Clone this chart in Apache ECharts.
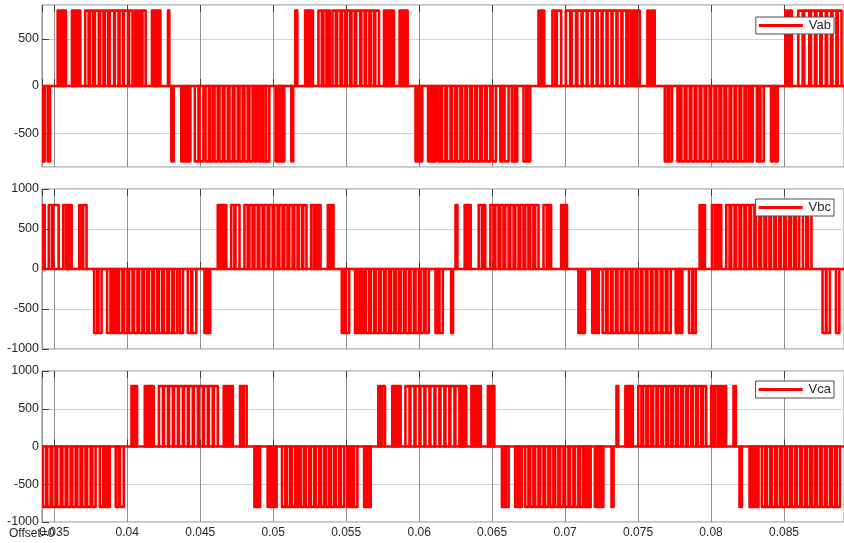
<!DOCTYPE html>
<html>
<head>
<meta charset="utf-8">
<script src="https://cdn.jsdelivr.net/npm/echarts@6/dist/echarts.min.js"></script>
<style>
  html, body { margin: 0; padding: 0; background: #fff; }
  #chart { width: 844px; height: 543px; }
</style>
</head>
<body>
<div id="chart"></div>
<script>
// names of the three scope channels
const seriesNames = ['Vab', 'Vbc', 'Vca'];
// pulse height (V)
const amplitude = 800;
// visible time window (ms)
const tStartMs = 34.157;
const tEndMs = 89.11;
const yTickLabels = [-1000, -500, 0, 500, 1000];

// pulses read from the scope: [on ms, off ms, sign]
const vabPulses = [
  [34.21,34.34,-1],[34.55,34.71,-1],
  [35.23,35.37,1],[35.48,35.59,1],[35.66,35.80,1],[36.21,36.33,1],[36.39,36.50,1],[36.62,36.78,1],[37.12,37.35,1],[37.44,37.66,1],[37.78,38.05,1],[38.14,38.37,1],[38.46,38.69,1],[38.80,39.10,1],[39.15,39.40,1],[39.47,39.71,1],[39.76,40.05,1],[40.12,40.36,1],[40.51,40.67,1],[40.81,40.97,1],[41.04,41.26,1],[41.69,41.83,1],[41.93,42.06,1],[42.13,42.27,1],[42.79,42.88,1],
  [43.02,43.18,-1],[43.70,43.84,-1],[43.93,44.07,-1],[44.15,44.32,-1],[44.63,44.88,-1],[44.95,45.22,-1],[45.36,45.59,-1],[45.66,45.86,-1],[45.98,46.20,-1],[46.32,46.55,-1],[46.66,46.89,-1],[47.00,47.23,-1],[47.34,47.57,-1],[47.69,47.91,-1],[48.03,48.25,-1],[48.37,48.59,-1],[48.71,48.87,-1],[49.00,49.18,-1],[49.28,49.47,-1],[49.51,49.73,-1],[50.16,50.33,-1],[50.42,50.56,-1],[50.62,50.76,-1],[51.24,51.37,-1],
  [51.51,51.65,1],[52.19,52.33,1],[52.40,52.52,1],[52.58,52.72,1],[53.10,53.33,1],[53.44,53.65,1],[53.74,53.88,1],[54.06,54.29,1],[54.38,54.61,1],[54.70,54.92,1],[55.04,55.27,1],[55.36,55.59,1],[55.68,55.96,1],[56.04,56.27,1],[56.36,56.59,1],[56.68,56.90,1],[56.99,57.25,1],[57.59,57.73,1],[57.86,58.04,1],[58.11,58.27,1],[58.66,58.80,1],[58.89,59.03,1],[59.07,59.21,1],
  [59.75,59.93,-1],[60.03,60.21,-1],[60.61,60.78,-1],[60.84,60.98,-1],[61.00,61.14,-1],[61.30,61.48,-1],[61.57,61.80,-1],[61.91,62.15,-1],[62.25,62.48,-1],[62.60,62.83,-1],[62.94,63.17,-1],[63.28,63.51,-1],[63.62,63.85,-1],[63.96,64.19,-1],[64.30,64.53,-1],[64.64,64.88,-1],[65.03,65.26,-1],[65.56,65.74,-1],[65.85,66.13,-1],[66.35,66.54,-1],[66.58,66.72,-1],[67.15,67.34,-1],[67.43,67.61,-1],
  [68.18,68.32,1],[68.41,68.57,1],[69.13,69.32,1],[69.43,69.73,1],[70.05,70.35,1],[70.45,70.75,1],[70.84,71.13,1],[71.20,71.48,1],[71.54,71.82,1],[71.89,72.16,1],[72.23,72.50,1],[72.57,72.84,1],[72.91,73.18,1],[73.25,73.52,1],[73.59,73.86,1],[73.93,74.20,1],[74.32,74.51,1],[74.66,74.82,1],[74.91,75.12,1],[75.64,75.80,1],[75.96,76.14,1],
  [76.83,77.02,-1],[77.13,77.32,-1],[77.70,77.88,-1],[77.97,78.20,-1],[78.31,78.54,-1],[78.65,78.88,-1],[78.99,79.22,-1],[79.33,79.56,-1],[79.67,79.90,-1],[80.01,80.24,-1],[80.36,80.58,-1],[80.70,80.92,-1],[81.04,81.27,-1],[81.38,81.61,-1],[81.72,81.95,-1],[82.06,82.29,-1],[82.40,82.59,-1],[82.70,82.86,-1],[83.14,83.32,-1],[83.39,83.61,-1],[84.11,84.25,-1],[84.39,84.57,-1],
  [85.09,85.25,1],[85.37,85.53,1],[85.98,86.28,1],[86.39,86.73,1],[86.85,87.12,1],[87.22,87.49,1],[87.58,87.86,1],[87.95,88.22,1],[88.32,88.59,1],[88.68,88.94,1]
];

const vbcPulses = [
  [34.16,34.34,1],[34.62,34.84,1],[34.93,35.30,1],[35.61,35.80,1],[35.85,35.98,1],[36.02,36.19,1],[36.71,36.89,1],[36.98,37.21,1],
  [37.73,37.94,-1],[38.03,38.24,-1],[38.62,38.85,-1],[38.96,39.10,-1],[39.15,39.30,-1],[39.44,39.67,-1],[39.78,40.01,-1],[40.12,40.36,-1],[40.46,40.70,-1],[40.81,41.04,-1],[41.15,41.38,-1],[41.49,41.72,-1],[41.83,42.06,-1],[42.17,42.40,-1],[42.51,42.75,-1],[42.86,43.09,-1],[43.20,43.43,-1],[43.59,43.81,-1],[44.15,44.39,-1],[44.45,44.73,-1],[45.29,45.45,-1],[45.52,45.68,-1],
  [46.20,46.37,1],[46.43,46.59,1],[46.64,46.78,1],[47.12,47.34,1],[47.41,47.69,1],[48.03,48.25,1],[48.37,48.59,1],[48.71,48.94,1],[49.05,49.28,1],[49.39,49.62,1],[49.73,49.96,1],[50.08,50.30,1],[50.42,50.64,1],[50.76,50.98,1],[51.10,51.33,1],[51.44,51.67,1],[51.74,51.97,1],[52.06,52.28,1],[52.60,52.79,1],[52.86,53.00,1],[53.06,53.24,1],[53.74,53.88,1],[53.99,54.13,1],
  [54.70,54.88,-1],[54.97,55.20,-1],[55.61,55.79,-1],[55.88,56.02,-1],[56.07,56.23,-1],[56.34,56.57,-1],[56.68,56.91,-1],[57.02,57.25,-1],[57.36,57.59,-1],[57.70,57.93,-1],[58.05,58.27,-1],[58.39,58.61,-1],[58.73,58.96,-1],[59.07,59.30,-1],[59.41,59.64,-1],[59.75,59.98,-1],[60.10,60.32,-1],[60.44,60.66,-1],[61.12,61.30,-1],[61.39,61.62,-1],[62.19,62.32,-1],
  [62.49,62.62,1],[63.12,63.28,1],[63.35,63.53,1],[64.08,64.30,1],[64.37,64.53,1],[64.88,65.10,1],[65.22,65.44,1],[65.56,65.78,1],[65.90,66.13,1],[66.24,66.47,1],[66.58,66.81,1],[66.93,67.15,1],[67.27,67.49,1],[67.61,67.83,1],[67.95,68.18,1],[68.52,68.75,1],[68.86,69.04,1],[69.73,69.91,1],[70.00,70.13,1],
  [70.91,71.09,-1],[71.18,71.36,-1],[71.86,72.04,-1],[72.13,72.31,-1],[72.57,72.80,-1],[72.91,73.14,-1],[73.25,73.48,-1],[73.59,73.82,-1],[73.93,74.16,-1],[74.27,74.50,-1],[74.62,74.84,-1],[74.96,75.19,-1],[75.30,75.53,-1],[75.64,75.87,-1],[75.98,76.21,-1],[76.32,76.55,-1],[76.67,76.90,-1],[77.01,77.24,-1],[77.58,77.76,-1],[77.85,78.03,-1],[78.49,78.71,-1],[78.76,78.95,-1],
  [79.22,79.36,1],[79.45,79.58,1],[80.06,80.25,1],[80.31,80.47,1],[80.52,80.70,1],[81.04,81.27,1],[81.38,81.61,1],[81.72,81.95,1],[82.06,82.29,1],[82.40,82.63,1],[82.74,82.97,1],[83.08,83.31,1],[83.43,83.66,1],[83.77,84.00,1],[84.11,84.34,1],[84.45,84.68,1],[84.79,85.02,1],[85.13,85.36,1],[85.48,85.70,1],[85.82,86.04,1],[86.30,86.53,1],[86.65,86.88,1],
  [87.64,87.87,-1],[87.91,88.14,-1],[88.56,88.79,-1]
];

const vcaPulses = [
  [34.21,34.43,-1],[34.52,34.75,-1],[34.86,35.10,-1],[35.20,35.44,-1],[35.55,35.78,-1],[35.89,36.12,-1],[36.23,36.46,-1],[36.57,36.80,-1],[36.91,37.14,-1],[37.25,37.49,-1],[37.60,37.83,-1],[38.12,38.35,-1],[38.46,38.62,-1],[38.69,38.80,-1],[39.21,39.40,-1],[39.49,39.76,-1],
  [40.29,40.44,1],[40.51,40.67,1],[41.20,41.38,1],[41.47,41.65,1],[41.67,41.81,1],[42.17,42.45,1],[42.51,42.79,1],[42.86,43.13,1],[43.20,43.47,1],[43.54,43.81,1],[43.88,44.15,1],[44.22,44.49,1],[44.56,44.84,1],[44.90,45.18,1],[45.25,45.52,1],[45.59,45.86,1],[45.93,46.20,1],[46.61,46.78,1],[46.89,47.05,1],[47.12,47.23,1],[47.73,47.91,1],[47.98,48.18,1],
  [48.71,48.87,-1],[48.96,49.10,-1],[49.62,49.78,-1],[49.85,50.01,-1],[50.08,50.23,-1],[50.60,50.83,-1],[50.94,51.16,-1],[51.28,51.51,-1],[51.62,51.78,-1],[51.90,52.12,-1],[52.24,52.47,-1],[52.58,52.81,-1],[52.92,53.15,-1],[53.27,53.49,-1],[53.61,53.83,-1],[53.95,54.17,-1],[54.29,54.52,-1],[54.63,54.86,-1],[55.08,55.25,-1],[55.33,55.47,-1],[55.54,55.77,-1],[56.23,56.39,-1],[56.50,56.68,-1],
  [57.20,57.36,1],[57.47,57.66,1],[58.16,58.32,1],[58.39,58.53,1],[58.57,58.73,1],[59.06,59.34,1],[59.40,59.68,1],[59.75,60.02,1],[60.09,60.36,1],[60.43,60.71,1],[60.77,61.05,1],[61.11,61.39,1],[61.46,61.73,1],[61.80,62.07,1],[62.14,62.42,1],[62.48,62.76,1],[62.83,62.99,1],[63.07,63.23,1],[63.58,63.74,1],[63.85,64.01,1],[64.08,64.22,1],[64.71,64.88,1],[64.99,65.15,1],
  [65.67,65.85,-1],[65.94,66.13,-1],[66.58,66.76,-1],[66.86,67.04,-1],[67.27,67.49,-1],[67.61,67.83,-1],[67.95,68.18,-1],[68.29,68.52,-1],[68.63,68.86,-1],[68.98,69.20,-1],[69.32,69.54,-1],[69.66,69.89,-1],[70.00,70.23,-1],[70.34,70.57,-1],[70.68,70.91,-1],[71.02,71.24,-1],[71.34,71.52,-1],[71.61,71.75,-1],[72.04,72.18,-1],[72.23,72.37,-1],[72.46,72.62,-1],[73.18,73.32,-1],
  [73.52,73.64,1],[74.13,74.26,1],[74.31,74.43,1],[74.50,74.64,1],[75.01,75.23,1],[75.35,75.57,1],[75.69,75.91,1],[76.03,76.26,1],[76.37,76.60,1],[76.71,76.94,1],[77.06,77.28,1],[77.40,77.62,1],[77.74,77.96,1],[78.08,78.31,1],[78.42,78.65,1],[78.76,78.99,1],[79.10,79.33,1],[79.45,79.67,1],[80.01,80.19,1],[80.28,80.47,1],[80.59,80.75,1],[80.87,81.03,1],[81.54,81.70,1],
  [81.95,82.11,-1],[82.64,82.80,-1],[82.88,83.05,-1],[83.11,83.25,-1],[83.48,83.71,-1],[83.82,84.05,-1],[84.16,84.39,-1],[84.51,84.73,-1],[84.85,85.07,-1],[85.19,85.41,-1],[85.53,85.76,-1],[85.87,86.10,-1],[86.21,86.44,-1],[86.56,86.78,-1],[86.90,87.12,-1],[87.24,87.46,-1],[87.58,87.81,-1],[87.92,88.15,-1],[88.27,88.49,-1],[88.61,88.83,-1]
];

const allPulses = [vabPulses, vbcPulses, vcaPulses];

const red = '#ff0000';
const traceWidth = 2.6;
const fontFam = '"Liberation Sans", Arial, sans-serif';
const textCol = '#262626';

// each pulse drawn as a rectangle outline on the zero line, via the axis scales
function renderPulse(params, api) {
  const on = api.value(0), off = api.value(1), lv = api.value(2);
  const pts = [api.coord([on, 0]), api.coord([on, lv]), api.coord([off, lv]), api.coord([off, 0])];
  return {
    type: 'polyline',
    shape: { points: pts },
    style: { stroke: red, lineWidth: traceWidth, fill: null, lineJoin: 'round', lineCap: 'round' }
  };
}

const grids = [
  { left: 42, right: 0, top: 5, height: 162 },
  { left: 42, right: 0, top: 189, height: 160 },
  { left: 42, right: 0, top: 371, height: 151 }
].map(g => Object.assign(g, { show: true, borderColor: '#8a8a8a', borderWidth: 1, backgroundColor: '#fff' }));

let xAxes = [];
let yAxes = [];
let series = [];
let legends = [];
const legendTops = [17, 199, 381];

for (let i = 0; i < 3; i++) {
  const last = i === 2;
  xAxes.push({
    type: 'value', gridIndex: i, position: 'bottom',
    min: tStartMs / 1000, max: tEndMs / 1000, splitNumber: 11,
    axisLine: { show: false },
    axisTick: { show: true, inside: true, length: 7, lineStyle: { color: '#404040' } },
    axisLabel: { show: last, showMinLabel: false, showMaxLabel: false, fontFamily: fontFam, fontSize: 12, color: textCol, margin: 5 },
    splitLine: { show: true, lineStyle: { color: '#8f8f8f', width: 1 } }
  });
  xAxes.push({
    type: 'value', gridIndex: i, position: 'top',
    min: tStartMs / 1000, max: tEndMs / 1000, splitNumber: 11,
    axisLine: { show: false },
    axisTick: { show: true, inside: true, length: 7, lineStyle: { color: '#404040' } },
    axisLabel: { show: false },
    splitLine: { show: false }
  });
  const yBase = {
    type: 'value', gridIndex: i,
    axisLine: { show: false },
    axisTick: { show: true, inside: true, length: 7, lineStyle: { color: '#404040' } },
    axisLabel: { fontFamily: fontFam, fontSize: 12.5, color: textCol, margin: 3,
      formatter: v => yTickLabels.includes(v) ? String(v) : '' },
    splitLine: { show: true, lineStyle: { color: '#d2d2d2', width: 1 } }
  };
  if (i === 0) {
    yAxes.push(Object.assign(yBase, { min: -860, max: 860, splitNumber: 3,
      axisLabel: Object.assign(yBase.axisLabel, { showMinLabel: false, showMaxLabel: false }) }));
  } else {
    yAxes.push(Object.assign(yBase, { min: -1000, max: 1000, interval: 500 }));
  }
  // zero line of the trace
  series.push({
    name: seriesNames[i], type: 'line', xAxisIndex: i * 2, yAxisIndex: i,
    data: [[tStartMs / 1000, 0], [tEndMs / 1000, 0]], showSymbol: false, symbol: 'none',
    lineStyle: { color: red, width: traceWidth }, itemStyle: { color: red },
    emphasis: { disabled: true }, silent: true, z: 3
  });
  // the pulses
  series.push({
    name: seriesNames[i], type: 'custom', xAxisIndex: i * 2, yAxisIndex: i,
    data: allPulses[i].map(p => [p[0] / 1000, p[1] / 1000, p[2] * amplitude]),
    encode: { x: [0, 1], y: 2 },
    renderItem: renderPulse, clip: true, silent: true, z: 3,
    itemStyle: { color: red }
  });
  legends.push({
    data: [seriesNames[i]], right: 10, top: legendTops[i],
    icon: 'rect', itemWidth: 44, itemHeight: 3, itemGap: 4,
    backgroundColor: '#fff', borderColor: '#4d4d4d', borderWidth: 1, borderRadius: 0,
    padding: [2, 3, 2, 3], selectedMode: false, z: 10,
    textStyle: { fontFamily: fontFam, fontSize: 13, color: textCol, padding: [0, 0, 0, 1] }
  });
}

const chart = echarts.init(document.getElementById('chart'));
chart.setOption({
  animation: false,
  backgroundColor: '#fff',
  grid: grids,
  xAxis: xAxes,
  yAxis: yAxes,
  legend: legends,
  series: series,
  graphic: [{
    type: 'text', left: 9, top: 528, z: 1,
    style: { text: 'Offset=0', font: '12px "Liberation Sans", Arial, sans-serif', fill: textCol }
  }]
});
</script>
</body>
</html>
